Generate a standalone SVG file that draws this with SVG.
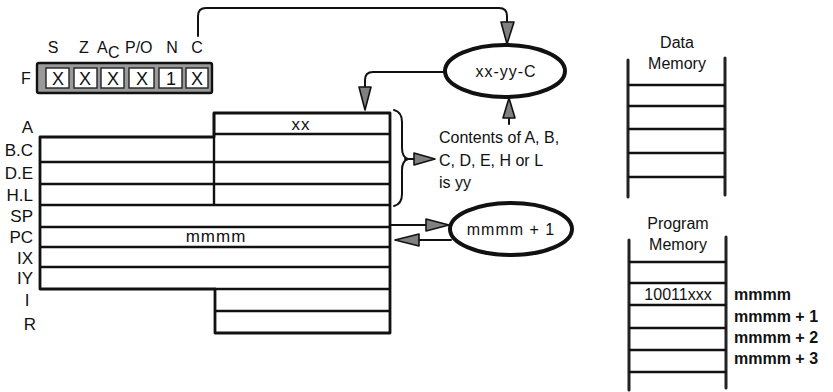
<svg xmlns="http://www.w3.org/2000/svg" width="833" height="392" viewBox="0 0 833 392">
<style>
text{font-family:"Liberation Sans",Arial,sans-serif;fill:#111}
.t{font-size:16px}
.r{font-size:17px}
.lbl{font-size:16px}
.fx{font-size:18px}
.b{font-size:16px;font-weight:bold}
.ln{fill:none;stroke:#111;stroke-width:2;stroke-linecap:round;stroke-linejoin:round}
.ol{fill:none;stroke:#111;stroke-width:2.8;stroke-linejoin:round}
.ah{fill:#808080;stroke:#111;stroke-width:1.6;stroke-linejoin:round}
.el{fill:#fff;stroke:#111;stroke-width:4}
.mem{stroke:#222;stroke-width:3;stroke-linecap:round}
.row{stroke:#111;stroke-width:2.4}
</style>
<rect width="833" height="392" fill="#fff"/>

<g id="flags">
<text class="lbl" x="53" y="53" text-anchor="middle">S</text>
<text class="lbl" x="84" y="53" text-anchor="middle">Z</text>
<text class="lbl" x="97" y="53">A</text>
<text class="lbl" x="108" y="58">C</text>
<text class="lbl" x="125" y="53">P/O</text>
<text class="lbl" x="172" y="53" text-anchor="middle">N</text>
<text class="lbl" x="197" y="53" text-anchor="middle">C</text>
<text class="lbl" x="26" y="84" text-anchor="middle">F</text>
<rect x="37" y="63" width="175" height="30" rx="2" fill="#9a9a9a" stroke="#111" stroke-width="2.4"/>
<rect x="46" y="68" width="23" height="20" fill="#fff" stroke="#222" stroke-width="1.4"/>
<rect x="74" y="68" width="23" height="20" fill="#fff" stroke="#222" stroke-width="1.4"/>
<rect x="101" y="68" width="23" height="20" fill="#fff" stroke="#222" stroke-width="1.4"/>
<rect x="129" y="68" width="25" height="20" fill="#fff" stroke="#222" stroke-width="1.4"/>
<rect x="159" y="68" width="23" height="20" fill="#fff" stroke="#222" stroke-width="1.4"/>
<rect x="186" y="68" width="22" height="20" fill="#fff" stroke="#222" stroke-width="1.4"/>
<text class="fx" x="58" y="85" text-anchor="middle">X</text>
<text class="fx" x="85" y="85" text-anchor="middle">X</text>
<text class="fx" x="113" y="85" text-anchor="middle">X</text>
<text class="fx" x="142" y="85" text-anchor="middle">X</text>
<text class="fx" x="171" y="85" text-anchor="middle">1</text>
<text class="fx" x="197" y="85" text-anchor="middle">X</text>
</g>

<g id="registers">
<path class="ol" d="M40,137 H214 V113 H390 V333 H215 V289 H40 Z"/>
<line class="row" x1="214" y1="134" x2="390" y2="134"/>
<line class="row" x1="214" y1="113" x2="214" y2="205"/>
<line class="row" x1="40" y1="162" x2="390" y2="162"/>
<line class="row" x1="40" y1="184" x2="390" y2="184"/>
<line class="row" x1="40" y1="205" x2="390" y2="205"/>
<line class="row" x1="40" y1="227" x2="390" y2="227"/>
<line class="row" x1="40" y1="247" x2="390" y2="247"/>
<line class="row" x1="40" y1="267" x2="390" y2="267"/>
<line class="row" x1="215" y1="289" x2="390" y2="289"/>
<line class="row" x1="215" y1="311" x2="390" y2="311"/>
<text class="r" x="33" y="133" text-anchor="end">A</text>
<text class="r" x="33" y="156" text-anchor="end">B.C</text>
<text class="r" x="33" y="179" text-anchor="end">D.E</text>
<text class="r" x="33" y="201" text-anchor="end">H.L</text>
<text class="r" x="33" y="222" text-anchor="end">SP</text>
<text class="r" x="33" y="243" text-anchor="end">PC</text>
<text class="r" x="33" y="264" text-anchor="end">IX</text>
<text class="r" x="33" y="284" text-anchor="end">IY</text>
<text class="r" x="27" y="306" text-anchor="middle">I</text>
<text class="r" x="30" y="330" text-anchor="middle">R</text>
<text class="r" x="301" y="130" text-anchor="middle" letter-spacing="1">xx</text>
<text class="r" x="216" y="242" text-anchor="middle" letter-spacing="1">mmmm</text>
</g>

<g id="brace">
<path class="ln" d="M394,110 Q402,112 402,122 V148 Q402,157 408,159 Q402,161 402,170 V194 Q402,204 394,206"/>
</g>

<g id="alu">
<ellipse class="el" cx="505" cy="71" rx="60" ry="26"/>
<text class="t" x="506" y="77" text-anchor="middle" letter-spacing="1">xx-yy-C</text>
</g>

<g id="inc">
<ellipse class="el" cx="511" cy="229" rx="61" ry="26"/>
<text class="t" x="511" y="235" text-anchor="middle" letter-spacing="1">mmmm + 1</text>
</g>

<g id="note">
<text class="t" x="439" y="143" font-size="17">Contents of A, B,</text>
<text class="t" x="439" y="166" font-size="17">C, D, E, H or L</text>
<text class="t" x="439" y="188" font-size="17">is yy</text>
</g>

<g id="data-memory">
<text class="t" x="677" y="48" text-anchor="middle">Data</text>
<text class="t" x="677" y="69" text-anchor="middle">Memory</text>
<line class="mem" x1="628" y1="60" x2="628" y2="197"/>
<line class="mem" x1="725" y1="58" x2="725" y2="195"/>
<line class="row" x1="628" y1="85" x2="725" y2="85"/>
<line class="row" x1="628" y1="106" x2="725" y2="106"/>
<line class="row" x1="628" y1="129" x2="725" y2="129"/>
<line class="row" x1="628" y1="153" x2="725" y2="153"/>
<line class="row" x1="628" y1="177" x2="725" y2="177"/>
</g>

<g id="program-memory">
<text class="t" x="678" y="229" text-anchor="middle">Program</text>
<text class="t" x="678" y="250" text-anchor="middle">Memory</text>
<line class="mem" x1="629" y1="240" x2="629" y2="390"/>
<line class="mem" x1="726" y1="237" x2="726" y2="388"/>
<line class="row" x1="629" y1="262" x2="726" y2="262"/>
<line class="row" x1="629" y1="283" x2="726" y2="283"/>
<line class="row" x1="629" y1="305" x2="726" y2="305"/>
<line class="row" x1="629" y1="328" x2="726" y2="328"/>
<line class="row" x1="629" y1="350" x2="726" y2="350"/>
<line class="row" x1="629" y1="372" x2="726" y2="372"/>
<text class="t" x="678" y="300" text-anchor="middle">10011xxx</text>
<text class="b" x="734" y="300">mmmm</text>
<text class="b" x="734" y="322">mmmm + 1</text>
<text class="b" x="734" y="343">mmmm + 2</text>
<text class="b" x="734" y="364">mmmm + 3</text>
</g>

<g id="connectors">
<path class="ln" d="M198,36 V16 Q198,8 206,8 H499 Q507,8 507,16 V22"/>
<polygon class="ah" points="501,22 514,22 507,44"/>
<path class="ln" d="M445,72 H373 Q365,72 365,80 V87"/>
<polygon class="ah" points="359,87 371,87 365,110"/>
<line class="ln" x1="509" y1="124" x2="509" y2="118"/>
<polygon class="ah" points="503,118 515,118 509,98"/>
<line class="ln" x1="405" y1="159" x2="414" y2="159"/>
<polygon class="ah" points="414,153 414,165 435,159"/>
<line class="ln" x1="391" y1="225" x2="426" y2="225"/>
<polygon class="ah" points="426,219 426,231 449,225"/>
<line class="ln" x1="451" y1="240" x2="419" y2="240"/>
<polygon class="ah" points="419,234 419,246 395,240"/>
</g>
</svg>
